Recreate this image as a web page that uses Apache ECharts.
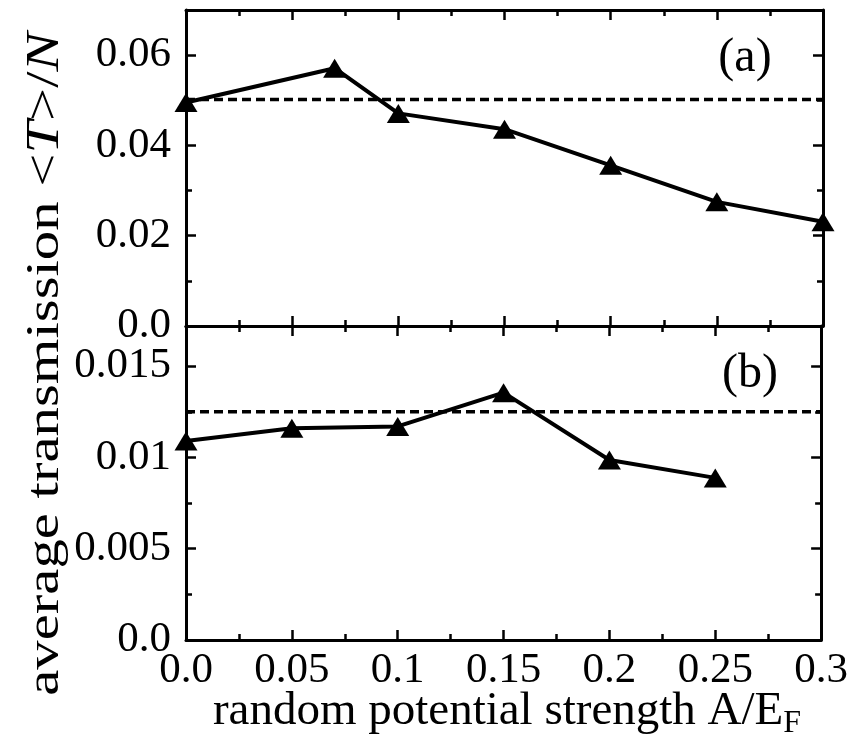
<!DOCTYPE html>
<html>
<head>
<meta charset="utf-8">
<script src="https://cdn.jsdelivr.net/npm/echarts@6/dist/echarts.min.js"></script>
<style>
  html, body { margin: 0; padding: 0; background: #fff; }
  #chart { width: 851px; height: 743px; }
</style>
</head>
<body>
<div id="chart"></div>
<script>
// Panel (a): average transmission vs. random potential strength
const strengthA = [0, 0.07, 0.1, 0.15, 0.2, 0.25, 0.3];
const transmissionA = [0.0495, 0.0571, 0.0471, 0.0436, 0.0356, 0.0275, 0.0231];
const referenceA = 0.0502;

// Panel (b)
const strengthB = [0, 0.05, 0.1, 0.15, 0.2, 0.25];
const transmissionB = [0.0109, 0.0116, 0.0117, 0.01355, 0.00986, 0.00888];
const referenceB = 0.0125;

// Tick labels
const xTickLabels = ['0.0', '0.05', '0.1', '0.15', '0.2', '0.25', '0.3'];
const yTickLabelsA = ['0.0', '0.02', '0.04', '0.06'];
const yTickLabelsB = ['0.0', '0.005', '0.01', '0.015'];

const X_MAX = 0.3, X_STEP = 0.05;
const YA_MAX = 0.07, YA_STEP = 0.02, YA_MINOR = 0.01;
const YB_MAX = 0.0172, YB_STEP = 0.005, YB_MINOR = 0.0025;

const FONT = '"Liberation Serif", "DejaVu Serif", serif';
const INK = '#000';
const TICK_FONT = 43;

function labelFrom(list, step) {
  return function (v) {
    const i = Math.round(v / step);
    return Math.abs(i * step - v) < step * 1e-6 && list[i] !== undefined ? list[i] : '';
  };
}

function xAxis(gridIndex, position, showLabels) {
  return {
    type: 'value', gridIndex, position,
    min: 0, max: X_MAX, interval: X_STEP,
    axisLine: { show: true, onZero: false, lineStyle: { color: INK, width: 3 } },
    axisTick: { show: true, inside: true, length: 10, lineStyle: { color: INK, width: 2.5 } },
    minorTick: { show: true, splitNumber: 2, length: 6, lineStyle: { color: INK, width: 2.5 } },
    splitLine: { show: false },
    axisLabel: {
      show: showLabels, margin: 9, color: INK, fontFamily: FONT, fontSize: TICK_FONT,
      formatter: labelFrom(xTickLabels, X_STEP)
    }
  };
}

function yAxis(gridIndex, position, max, step, labels, major) {
  return {
    type: 'value', gridIndex, position,
    min: 0, max: max, interval: step,
    axisLine: { show: major, onZero: false, lineStyle: { color: INK, width: 3 } },
    axisTick: { show: true, inside: true, length: major ? 10 : 6, lineStyle: { color: INK, width: 2.5 } },
    splitLine: { show: false },
    axisLabel: {
      show: !!labels, margin: 15, color: INK, fontFamily: FONT, fontSize: TICK_FONT,
      showMaxLabel: false,
      formatter: labels ? labelFrom(labels, step) : null
    }
  };
}

const pairs = (xs, ys) => xs.map((x, i) => [x, ys[i]]);

const chart = echarts.init(document.getElementById('chart'), null, { renderer: 'canvas' });

chart.setOption({
  backgroundColor: '#fff',
  animation: false,
  grid: [
    { left: 186, top: 10, width: 637, height: 316 },
    { left: 186, top: 326, width: 637, height: 314 }
  ],
  xAxis: [
    xAxis(0, 'bottom', false),
    xAxis(0, 'top', false),
    xAxis(1, 'bottom', true),
    xAxis(1, 'top', false)
  ],
  yAxis: [
    yAxis(0, 'left', YA_MAX, YA_STEP, yTickLabelsA, true),
    yAxis(0, 'left', YA_MAX, YA_MINOR, null, false),
    yAxis(0, 'right', YA_MAX, YA_STEP, null, true),
    yAxis(0, 'right', YA_MAX, YA_MINOR, null, false),
    yAxis(1, 'left', YB_MAX, YB_STEP, yTickLabelsB, true),
    yAxis(1, 'left', YB_MAX, YB_MINOR, null, false),
    yAxis(1, 'right', YB_MAX, YB_STEP, null, true),
    yAxis(1, 'right', YB_MAX, YB_MINOR, null, false)
  ],
  series: [
    {
      type: 'line', xAxisIndex: 0, yAxisIndex: 0,
      data: [[0, referenceA], [X_MAX, referenceA]],
      symbol: 'none', silent: true,
      lineStyle: { color: INK, width: 3.5, type: [9, 5] }
    },
    {
      type: 'line', xAxisIndex: 0, yAxisIndex: 0,
      data: pairs(strengthA, transmissionA),
      symbol: 'triangle', symbolSize: [23, 19], clip: false,
      itemStyle: { color: INK },
      lineStyle: { color: INK, width: 4 }
    },
    {
      type: 'line', xAxisIndex: 2, yAxisIndex: 4,
      data: [[0, referenceB], [X_MAX, referenceB]],
      symbol: 'none', silent: true,
      lineStyle: { color: INK, width: 3.5, type: [9, 5] }
    },
    {
      type: 'line', xAxisIndex: 2, yAxisIndex: 4,
      data: pairs(strengthB, transmissionB),
      symbol: 'triangle', symbolSize: [23, 19], clip: false,
      itemStyle: { color: INK },
      lineStyle: { color: INK, width: 4 }
    }
  ],
  graphic: [
    {
      type: 'text', x: 745, y: 58,
      style: { text: '(a)', fill: INK, fontFamily: FONT, fontSize: 48, align: 'center', verticalAlign: 'middle' }
    },
    {
      type: 'text', x: 750, y: 374,
      style: { text: '(b)', fill: INK, fontFamily: FONT, fontSize: 48, align: 'center', verticalAlign: 'middle' }
    },
    {
      // condensed vertical title: stretched along its reading direction
      type: 'text', x: 46, y: 364, rotation: Math.PI / 2, scaleX: 1.25,
      style: {
        text: 'average transmission <{i|T}>/{i|N}',
        fill: INK, fontFamily: FONT, fontSize: 47,
        align: 'center', verticalAlign: 'middle',
        rich: { i: { fontFamily: FONT, fontSize: 47, fontStyle: 'italic', fill: INK } }
      }
    },
    {
      type: 'text', x: 507, y: 712,
      style: {
        text: '{m|random potential strength A/E}{s|F}',
        fill: INK, align: 'center', verticalAlign: 'middle',
        rich: {
          m: { fontFamily: FONT, fontSize: 47, lineHeight: 56, fill: INK },
          s: { fontFamily: FONT, fontSize: 32, lineHeight: 32, verticalAlign: 'bottom', fill: INK }
        }
      }
    }
  ]
});
</script>
</body>
</html>
